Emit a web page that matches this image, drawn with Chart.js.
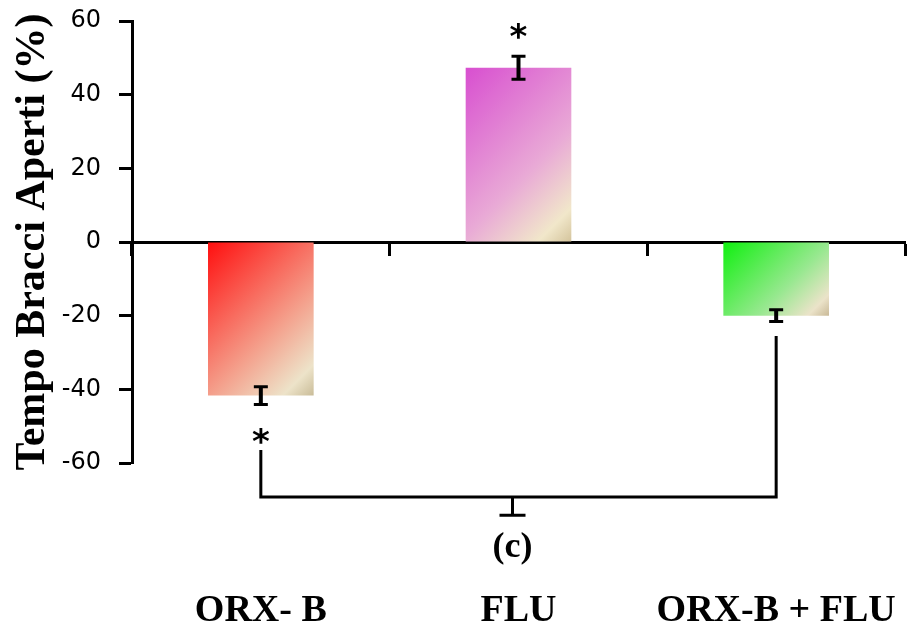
<!DOCTYPE html>
<html>
<head>
<meta charset="utf-8">
<script src="https://cdn.jsdelivr.net/npm/chart.js@4"></script>
<style>
  html, body { margin: 0; padding: 0; background: #fff; }
  #wrap { width: 916px; height: 626px; }
</style>
</head>
<body>
<div id="wrap"><canvas id="chart"></canvas></div>
<script>
// Open-arm time (% change) per treatment group
const groups = ['ORX- B', 'FLU', 'ORX-B + FLU'];
const means = [-41.7, 47.3, -20.0];
const sems = [2.4, 3.1, 1.6];
const yTicks = [-60, -40, -20, 0, 20, 40, 60];

// significance marks
const stars = ['*', '*', ''];
const starAt = [-53, 57, null];

// bracket comparing ORX-B with ORX-B + FLU
const bracketPair = [0, 2];
const bracketStart = [-56.5, -25.5];
const bracketLevel = -69.2;
const bracketTip = -74.2;
const panelTag = '(c)';
const panelTagAt = -83;

// fill stops for each bar, top-left to bottom-right
const barStops = [
  ['#ff0f0f', '#f4a08c', '#ede3c9', '#c9bc98'],
  ['#d84fd0', '#e9aad6', '#f1e7ca', '#d4c49c'],
  ['#10f010', '#98e890', '#ebe3c9', '#c9b997']
];

const serifBold = { family: "'Liberation Serif', 'Times New Roman', serif", weight: 'bold' };

// 45-degree gradient per bar, built from the bar's own rectangle
const gradientFill = {
  id: 'gradientFill',
  beforeDatasetsDraw(chart) {
    const ctx = chart.ctx;
    chart.getDatasetMeta(0).data.forEach((bar, i) => {
      const { x, y, base, width } = bar.getProps(['x', 'y', 'base', 'width'], true);
      const left = x - width / 2;
      const top = Math.min(y, base);
      const h = Math.abs(base - y);
      const d = (width + h) / 2;
      const g = ctx.createLinearGradient(left, top, left + d, top + d);
      const s = barStops[i];
      g.addColorStop(0, s[0]);
      g.addColorStop(0.6, s[1]);
      g.addColorStop(0.88, s[2]);
      g.addColorStop(1, s[3]);
      // options are shared between bars, so give each its own copy
      bar.options = { ...bar.options, backgroundColor: g };
    });
  }
};

// error bars, asterisks, comparison bracket and panel tag
const annotations = {
  id: 'annotations',
  afterDatasetsDraw(chart) {
    const { ctx, scales: { x, y } } = chart;
    ctx.save();
    ctx.strokeStyle = '#000';
    ctx.lineCap = 'butt';

    means.forEach((m, i) => {
      const cx = x.getPixelForValue(i);
      const hi = y.getPixelForValue(m + sems[i]);
      const lo = y.getPixelForValue(m - sems[i]);
      ctx.lineWidth = 4;
      ctx.beginPath();
      ctx.moveTo(cx, hi); ctx.lineTo(cx, lo);
      ctx.stroke();
      ctx.lineWidth = 3;
      ctx.beginPath();
      ctx.moveTo(cx - 7, hi); ctx.lineTo(cx + 7, hi);
      ctx.moveTo(cx - 7, lo); ctx.lineTo(cx + 7, lo);
      ctx.stroke();
    });

    ctx.fillStyle = '#000';
    ctx.font = "bold 34px 'DejaVu Sans', sans-serif";
    ctx.textAlign = 'center';
    ctx.textBaseline = 'middle';
    stars.forEach((s, i) => {
      if (!s) return;
      ctx.fillText(s, x.getPixelForValue(i), y.getPixelForValue(starAt[i]) + 7);
    });

    const xa = x.getPixelForValue(bracketPair[0]);
    const xb = x.getPixelForValue(bracketPair[1]);
    const yl = y.getPixelForValue(bracketLevel);
    const xm = (xa + xb) / 2 - 6;
    const yt = y.getPixelForValue(bracketTip);
    ctx.lineWidth = 3;
    ctx.beginPath();
    ctx.moveTo(xa, y.getPixelForValue(bracketStart[0]));
    ctx.lineTo(xa, yl);
    ctx.lineTo(xb, yl);
    ctx.lineTo(xb, y.getPixelForValue(bracketStart[1]));
    ctx.moveTo(xm, yl); ctx.lineTo(xm, yt);
    ctx.moveTo(xm - 13, yt); ctx.lineTo(xm + 13, yt);
    ctx.stroke();

    ctx.font = "bold 36px 'Liberation Serif', serif";
    ctx.fillText(panelTag, xm, y.getPixelForValue(panelTagAt));
    ctx.restore();
  }
};

new Chart(document.getElementById('chart'), {
  type: 'bar',
  data: {
    labels: groups,
    datasets: [{
      data: means,
      backgroundColor: '#ccc',
      borderWidth: 0,
      categoryPercentage: 1,
      barPercentage: 0.41
    }]
  },
  options: {
    responsive: true,
    maintainAspectRatio: false,
    animation: false,
    layout: { padding: { top: 21, right: 11, left: 0, bottom: 0 } },
    plugins: { legend: { display: false }, tooltip: { enabled: false } },
    scales: {
      x: {
        type: 'category',
        position: { y: 0 },
        offset: true,
        z: 1,
        ticks: { display: false },
        grid: { offset: true, drawOnChartArea: false, drawTicks: true, tickLength: 12, tickWidth: 3, tickColor: '#000' },
        border: { display: true, color: '#000', width: 3 }
      },
      x2: {
        type: 'category',
        position: 'bottom',
        labels: groups,
        offset: true,
        grid: { display: false, drawTicks: false },
        border: { display: false },
        ticks: { color: '#000', padding: 125, font: { ...serifBold, size: 38 }, maxRotation: 0, autoSkip: false },
        afterFit(s) { s.height = 163; s.paddingLeft = 0; s.paddingRight = 0; }
      },
      y: {
        min: yTicks[0],
        max: yTicks[yTicks.length - 1],
        z: 1,
        afterBuildTicks(s) { s.ticks = yTicks.map(v => ({ value: v })); },
        afterFit(s) { s.width = 132; s.paddingTop = 0; s.paddingBottom = 0; },
        ticks: { color: '#000', padding: 18, font: { family: "'DejaVu Sans', sans-serif", size: 24 } },
        grid: { drawOnChartArea: false, drawTicks: true, tickLength: 13, tickWidth: 3, tickColor: '#000' },
        border: { display: true, color: '#000', width: 3 },
        title: {
          display: true,
          text: 'Tempo Bracci Aperti (%)',
          color: '#000',
          padding: { top: 8, bottom: 0 },
          font: { ...serifBold, size: 42, lineHeight: 1.2 }
        }
      }
    }
  },
  plugins: [gradientFill, annotations]
});
</script>
</body>
</html>
